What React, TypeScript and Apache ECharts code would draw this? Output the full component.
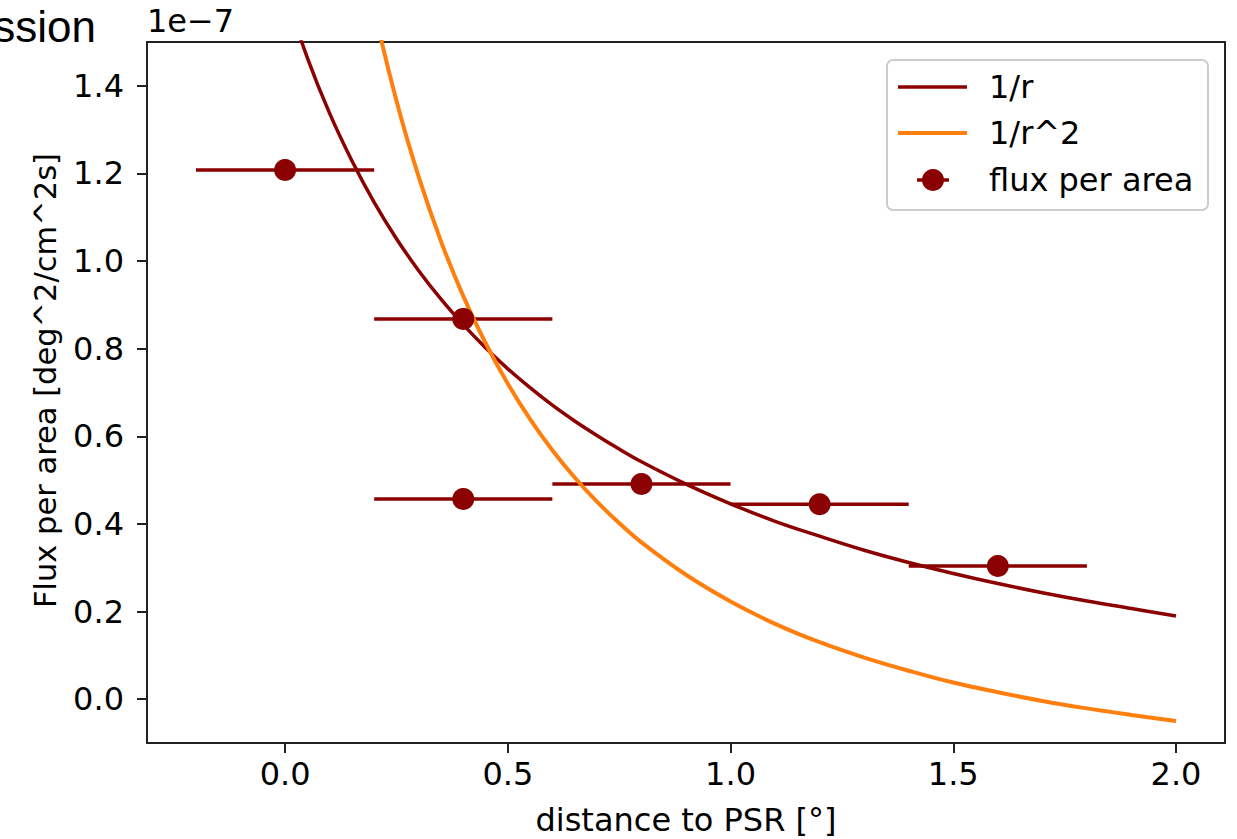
import React, { useEffect, useRef } from "react";
import * as echarts from "echarts";

// ---- data (y values in units of 1e-7) ----
const xTicks = [0, 0.5, 1.0, 1.5, 2.0];
const yTicks = [0, 0.2, 0.4, 0.6, 0.8, 1.0, 1.2, 1.4];

const pointX = [0.0, 0.4, 0.4, 0.8, 1.2, 1.6];
const pointY = [1.208, 0.868, 0.457, 0.491, 0.445, 0.304];
const pointXErr = [0.2, 0.2, 0.2, 0.2, 0.2, 0.2];

const curveX = [0, 0.05, 0.1, 0.15, 0.2, 0.25, 0.3, 0.35, 0.4, 0.45, 0.5, 0.55, 0.6, 0.65, 0.7, 0.75, 0.8, 0.9, 1.0, 1.1, 1.2, 1.3, 1.4, 1.5, 1.6, 1.7, 1.8, 1.9, 2.0];
const oneOverR = [1.613, 1.464, 1.337, 1.229, 1.134, 1.051, 0.978, 0.913, 0.855, 0.802, 0.754, 0.711, 0.671, 0.635, 0.602, 0.571, 0.542, 0.491, 0.446, 0.406, 0.372, 0.340, 0.312, 0.287, 0.264, 0.243, 0.224, 0.207, 0.190];
const oneOverR2 = [3.021, 2.528, 2.140, 1.829, 1.575, 1.366, 1.192, 1.045, 0.920, 0.813, 0.720, 0.639, 0.568, 0.506, 0.451, 0.402, 0.358, 0.284, 0.223, 0.172, 0.130, 0.095, 0.065, 0.038, 0.016, -0.004, -0.021, -0.036, -0.050];

const legendNames = ["1/r", "1/r^2", "flux per area"];

const DARK = "#8b0000";
const ORANGE = "#ff7f0e";
const FRAME = "#222222";
const FONT = "DejaVu Sans";

export default function App() {
  const ref = useRef<HTMLDivElement>(null);

  useEffect(() => {
    if (!ref.current) return;
    const chart = echarts.init(ref.current, null, { renderer: "svg" });

    const option: any = {
      animation: false,
      backgroundColor: "#ffffff",
      grid: {
        left: 147,
        top: 42,
        width: 1078,
        height: 701,
        show: true,
        borderColor: FRAME,
        borderWidth: 2,
        backgroundColor: "transparent",
        containLabel: false,
        outerBoundsMode: "none",
      },
      xAxis: {
        type: "value",
        min: -0.31,
        max: 2.11,
        splitLine: { show: false },
        axisLine: { show: false, onZero: false },
        axisTick: {
          show: true,
          length: 10,
          customValues: xTicks,
          lineStyle: { color: FRAME, width: 2 },
        },
        axisLabel: {
          customValues: xTicks,
          formatter: (v: number) => v.toFixed(1),
          fontSize: 32,
          fontFamily: FONT,
          color: "#000",
          margin: 15,
        },
        name: "distance to PSR [°]",
        nameLocation: "middle",
        nameGap: 61,
        nameTextStyle: { fontSize: 32, fontFamily: FONT, color: "#000" },
      },
      yAxis: {
        type: "value",
        min: -0.1,
        max: 1.5,
        splitLine: { show: false },
        axisLine: { show: false, onZero: false },
        axisTick: {
          show: true,
          length: 10,
          customValues: yTicks,
          lineStyle: { color: FRAME, width: 2 },
        },
        axisLabel: {
          customValues: yTicks,
          formatter: (v: number) => v.toFixed(1),
          fontSize: 32,
          fontFamily: FONT,
          color: "#000",
          margin: 23,
        },
        name: "Flux per area [deg^2/cm^2s]",
        nameLocation: "middle",
        nameGap: 86,
        nameTextStyle: { fontSize: 30.5, fontFamily: FONT, color: "#000", padding: [0, 0, 0, 24] },
      },
      series: [
        {
          type: "custom",
          name: "xerr",
          z: 2,
          clip: true,
          data: pointX.map((x, i) => [x, pointY[i], pointXErr[i]]),
          encode: { x: 0, y: 1 },
          renderItem: (_params: any, api: any) => {
            const x = api.value(0);
            const y = api.value(1);
            const e = api.value(2);
            const p1 = api.coord([x - e, y]);
            const p2 = api.coord([x + e, y]);
            return {
              type: "line",
              shape: { x1: p1[0], y1: p1[1], x2: p2[0], y2: p2[1] },
              style: { stroke: DARK, lineWidth: 3.5 },
            };
          },
        },
        {
          type: "line",
          name: legendNames[0],
          z: 3,
          data: curveX.map((x, i) => [x, oneOverR[i]]),
          symbol: "none",
          smooth: 0.4,
          clip: true,
          lineStyle: { color: DARK, width: 3.5 },
        },
        {
          type: "line",
          name: legendNames[1],
          z: 3,
          data: curveX.map((x, i) => [x, oneOverR2[i]]),
          symbol: "none",
          smooth: 0.4,
          clip: true,
          lineStyle: { color: ORANGE, width: 4 },
        },
        {
          type: "scatter",
          name: legendNames[2],
          z: 4,
          data: pointX.map((x, i) => [x, pointY[i]]),
          symbol: "circle",
          symbolSize: 22,
          itemStyle: { color: DARK, opacity: 1 },
        },
      ],
      graphic: [
        {
          type: "text",
          x: 96,
          y: 26,
          style: {
            text: "ssion",
            fontSize: 44,
            fontFamily: "Liberation Sans",
            fill: "#000",
            align: "right",
            verticalAlign: "middle",
          },
        },
        {
          type: "text",
          x: 147,
          y: 21,
          style: {
            text: "1e\u22127",
            fontSize: 32,
            fontFamily: FONT,
            fill: "#000",
            align: "left",
            verticalAlign: "middle",
          },
        },
        {
          type: "group",
          z: 100,
          children: [
            {
              type: "rect",
              shape: { x: 887, y: 60, width: 321, height: 150, r: 6 },
              style: { fill: "rgba(255,255,255,0.8)", stroke: "#cccccc", lineWidth: 2 },
            },
            {
              type: "line",
              shape: { x1: 898, y1: 87, x2: 967, y2: 87 },
              style: { stroke: DARK, lineWidth: 3.5 },
            },
            {
              type: "text",
              x: 989,
              y: 87,
              style: { text: legendNames[0], fontSize: 32, fontFamily: FONT, fill: "#000", align: "left", verticalAlign: "middle" },
            },
            {
              type: "line",
              shape: { x1: 898, y1: 133, x2: 967, y2: 133 },
              style: { stroke: ORANGE, lineWidth: 4 },
            },
            {
              type: "text",
              x: 989,
              y: 133,
              style: { text: legendNames[1], fontSize: 32, fontFamily: FONT, fill: "#000", align: "left", verticalAlign: "middle" },
            },
            {
              type: "line",
              shape: { x1: 917, y1: 180, x2: 949, y2: 180 },
              style: { stroke: DARK, lineWidth: 3.5 },
            },
            {
              type: "circle",
              shape: { cx: 933, cy: 180, r: 11 },
              style: { fill: DARK },
            },
            {
              type: "text",
              x: 989,
              y: 180,
              style: { text: legendNames[2], fontSize: 32, fontFamily: FONT, fill: "#000", align: "left", verticalAlign: "middle" },
            },
          ],
        },
      ],
    };

    chart.setOption(option);
    return () => chart.dispose();
  }, []);

  return (
    <div
      ref={ref}
      style={{ position: "fixed", left: 0, top: 0, width: 1237, height: 839, background: "#fff" }}
    />
  );
}
